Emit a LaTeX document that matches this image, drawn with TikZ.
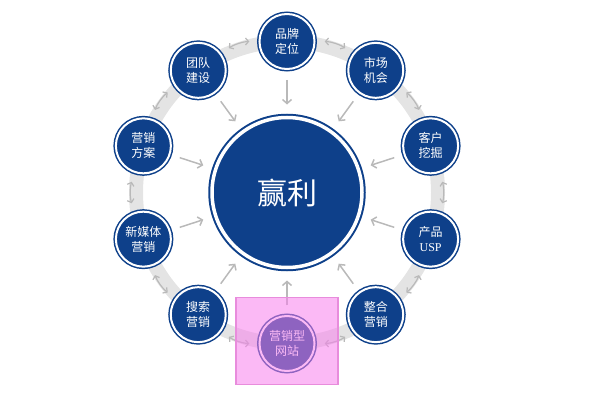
\documentclass[tikz,border=0pt]{standalone}
\usepackage{fontspec}
\setmainfont{Noto Sans CJK SC}
\newfontfamily\uspfont{Liberation Serif}
\usetikzlibrary{arrows.meta,positioning}
\definecolor{winblue}{RGB}{14,64,138}
\definecolor{ringgray}{RGB}{228,228,228}
\definecolor{arrowgray}{RGB}{185,185,185}
\definecolor{hlpink}{RGB}{248,128,237}
\definecolor{hledge}{RGB}{232,140,220}
\tikzset{
  core/.style={
    circle, fill=winblue, draw=winblue, double=white, double distance=3.5pt,
    line width=2pt, minimum size=150pt, inner sep=0pt, text=white,
    font=\fontsize{30}{30}\selectfont
  },
  stage/.style={
    circle, fill=winblue, draw=winblue, double=white, double distance=2pt,
    line width=1.5pt, minimum size=55pt, inner sep=0pt, text=white,
    align=center, font=\fontsize{12}{15}\selectfont
  },
  feed/.style={
    -{Straight Barb[length=4pt,width=9pt]}, arrowgray, line width=1.5pt,
    shorten <=10pt, shorten >=12pt
  },
  link/.style={
    {Straight Barb[length=3pt,width=7pt]}-{Straight Barb[length=3pt,width=7pt]},
    arrowgray, line width=1.2pt, shorten <=9.5pt, shorten >=9.5pt
  },
  band/.style={ringgray, line width=14pt},
  hilite/.style={
    fill=hlpink, fill opacity=0.55, draw=hledge, line width=1.5pt,
    minimum width=102pt, minimum height=87pt
  }
}

\begin{document}
\begin{tikzpicture}[x=1pt,y=1pt]
  \useasboundingbox (0,0) rectangle (600,400);
  \coordinate (c) at (287,207.5);

  % grey ring behind the stages
  \draw[band] (c) circle (151);

  \node[core] (win) at (c) {赢利};

  \foreach \ang/\name/\txt in {
      90/brand/{品牌\\定位}, 54/market/{市场\\机会}, 18/client/{客户\\挖掘},
      -18/usp/{产品\\{\uspfont USP}}, -54/integ/{整合\\营销}, -90/web/{营销型\\网站},
      -126/search/{搜索\\营销}, -162/media/{新媒体\\营销}, 162/plan/{营销\\方案},
      126/team/{团队\\建设}}
    \node[stage] (\name) at ([shift={(\ang:151)}]c) {\txt};

  % arrows into the centre
  \foreach \n in {brand,market,client,usp,integ,web,search,media,plan,team}
    \draw[feed] (\n) -- (win);

  % arrows along the ring
  \foreach \a/\b in {team/brand,brand/market,market/client,client/usp,usp/integ,
                     integ/web,web/search,search/media,media/plan,plan/team}
    \draw[link] (\a) to[bend left=18] (\b);

  \node[hilite] (focus) at ([yshift=2.5]web) {};
\end{tikzpicture}
\end{document}
